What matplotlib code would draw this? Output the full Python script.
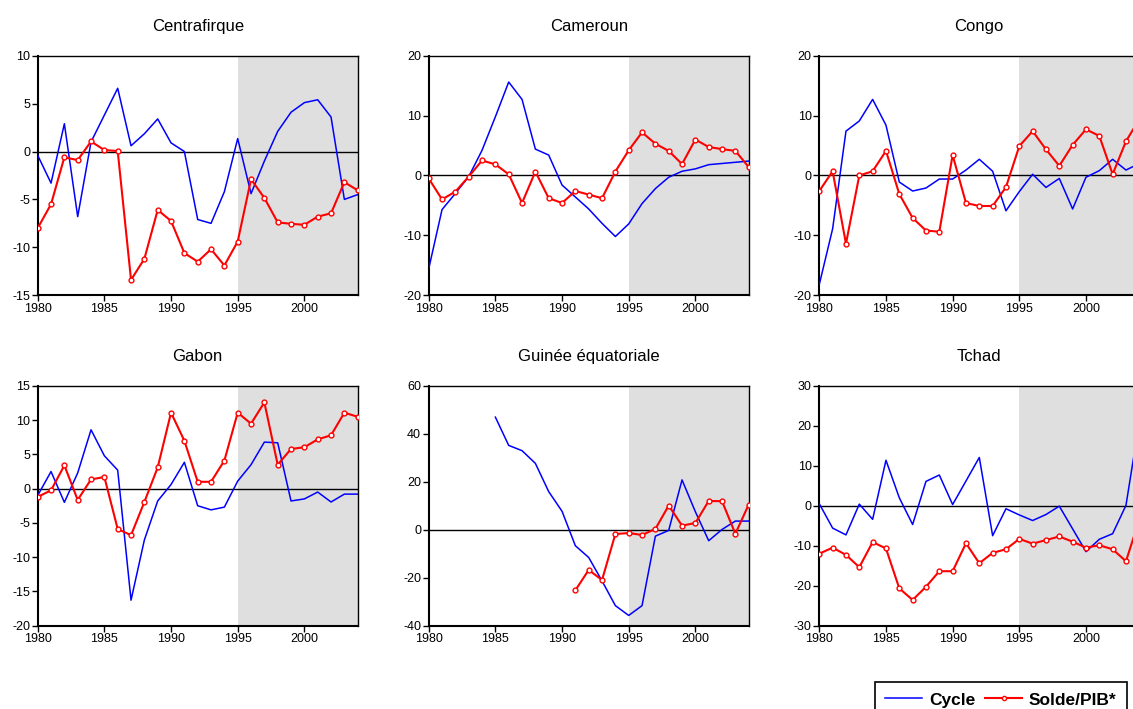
import numpy as np
from matplotlib import pyplot as plt
from matplotlib.lines import Line2D

plt.rcParams['font.family'] = ['Liberation Sans', 'DejaVu Sans']
plt.rcParams['axes.unicode_minus'] = False

years = np.arange(1980, 2005)
nan = np.nan

# Cycle (blue) and Solde/PIB* (red), one pair per country
centrafrique_cycle = [-0.4, -3.3, 2.9, -6.8, 1.0, 3.8, 6.6, 0.6, 1.85, 3.4, 0.9, 0.0,
                      -7.1, -7.5, -4.2, 1.35, -4.4, -1.0, 2.1, 4.1, 5.1, 5.4, 3.6, -5.0, -4.5]
centrafrique_solde = [-8.0, -5.5, -0.6, -0.9, 1.05, 0.15, 0.05, -13.4, -11.2, -6.1, -7.25, -10.6,
                      -11.5, -10.2, -11.9, -9.4, -2.9, -4.85, -7.4, -7.55, -7.65, -6.8, -6.45, -3.2, -4.05]

cameroun_cycle = [-15.6, -5.7, -3.0, -0.2, 4.2, 9.8, 15.6, 12.7, 4.4, 3.4, -1.6, -3.6,
                  -5.6, -8.0, -10.2, -8.1, -4.7, -2.2, -0.3, 0.7, 1.1, 1.8, 2.0, 2.2, 2.4]
cameroun_solde = [-0.5, -4.0, -2.7, -0.2, 2.5, 1.85, 0.2, -4.6, 0.65, -3.8, -4.6, -2.6,
                  -3.2, -3.8, 0.65, 4.2, 7.2, 5.3, 4.1, 1.9, 6.0, 4.75, 4.4, 4.1, 1.4]

congo_cycle = [-18.2, -8.9, 7.4, 9.1, 12.7, 8.4, -1.1, -2.6, -2.1, -0.6, -0.6, 0.9,
               2.7, 0.7, -5.9, -2.7, 0.2, -2.0, -0.5, -5.6, -0.3, 0.8, 2.7, 0.9, 2.0]
congo_solde = [-2.6, 0.7, -11.4, 0.0, 0.7, 4.1, -3.1, -7.1, -9.2, -9.4, 3.4, -4.6,
               -5.1, -5.1, -1.95, 4.9, 7.4, 4.35, 1.6, 5.1, 7.7, 6.6, 0.2, 5.7, 9.4]

gabon_cycle = [-1.0, 2.5, -2.0, 2.3, 8.6, 4.8, 2.7, -16.3, -7.5, -1.8, 0.6, 3.85,
               -2.5, -3.1, -2.7, 1.1, 3.5, 6.8, 6.7, -1.8, -1.5, -0.5, -1.95, -0.8, -0.8]
gabon_solde = [-1.2, -0.25, 3.4, -1.65, 1.35, 1.7, -5.9, -6.8, -1.95, 3.1, 11.1, 7.0,
               1.0, 1.0, 4.1, 11.1, 9.5, 12.6, 3.5, 5.8, 6.05, 7.2, 7.8, 11.1, 10.5]

guinee_cycle = [nan, nan, nan, nan, nan, 47.0, 35.2, 33.0, 27.7, 15.9, 7.7, -6.7,
                -11.6, -21.4, -31.7, -35.8, -31.7, -2.7, -0.3, 20.8, 7.5, -4.6, 0.1, 3.6, 3.6]
guinee_solde = [nan, nan, nan, nan, nan, nan, nan, nan, nan, nan, nan, -25.3,
                -16.8, -21.0, -1.8, -1.4, -2.2, 0.3, 10.1, 1.7, 2.8, 12.0, 11.9, -1.7, 10.5]

tchad_cycle = [0.5, -5.6, -7.3, 0.4, -3.4, 11.4, 2.0, -4.7, 6.1, 7.7, 0.3, 6.2,
               12.1, -7.5, -0.75, -2.3, -3.7, -2.2, -0.1, -5.8, -11.5, -8.4, -7.0, 0.1, 21.0]
tchad_solde = [-12.0, -10.5, -12.3, -15.4, -9.1, -10.7, -20.7, -23.6, -20.3, -16.4, -16.4, -9.4,
               -14.4, -11.8, -10.9, -8.3, -9.5, -8.6, -7.7, -9.0, -10.5, -9.9, -10.9, -13.9, -3.5]

titles = ['Centrafirque', 'Cameroun', 'Congo', 'Gabon', 'Guinée équatoriale', 'Tchad']
cycles = [centrafrique_cycle, cameroun_cycle, congo_cycle, gabon_cycle, guinee_cycle, tchad_cycle]
soldes = [centrafrique_solde, cameroun_solde, congo_solde, gabon_solde, guinee_solde, tchad_solde]
ylims = [(-15, 10), (-20, 20), (-20, 20), (-20, 15), (-40, 60), (-30, 30)]
ysteps = [5, 10, 10, 5, 20, 10]

fig = plt.figure(figsize=(11.33, 7.09), dpi=100)

W, H = 1133., 709.
lefts = [37.7, 428.7, 819.3]
tops = [55.7, 386.0]
ax_w, ax_h = 320.0, 239.5

for i in range(6):
    r, c = divmod(i, 3)
    ax = fig.add_axes([lefts[c] / W, 1 - (tops[r] + ax_h) / H, ax_w / W, ax_h / H])
    ax.axvspan(1995, 2004, color='#dfdfdf', lw=0, zorder=0)
    ax.axhline(0, color='black', lw=1.0, zorder=1)
    ax.plot(years, cycles[i], color='#0000ff', lw=1.1, zorder=3)
    ax.plot(years, soldes[i], color='#ff0000', lw=1.5, marker='o', ms=3.5,
            mfc='white', mec='#ff0000', mew=1.0, zorder=4)
    ax.set_xlim(1980, 2004)
    ax.set_ylim(*ylims[i])
    ax.set_xticks(np.arange(1980, 2004, 5))
    ax.set_yticks(np.arange(ylims[i][0], ylims[i][1] + 1, ysteps[i]))
    ax.tick_params(direction='out', length=4, width=1, labelsize=9, pad=1.5, colors='black')
    for s in ['left', 'bottom']:
        ax.spines[s].set_linewidth(1.5)
    for s in ['top', 'right']:
        ax.spines[s].set_linewidth(1.0)
    ax.set_title(titles[i], fontsize=12, pad=18)

handles = [Line2D([], [], color='#0000ff', lw=1.1),
           Line2D([], [], color='#ff0000', lw=1.5, marker='o', ms=3,
                  mfc='white', mec='#ff0000')]
leg = fig.legend(handles, ['Cycle', 'Solde/PIB*'], loc='upper left',
                 bbox_to_anchor=(875 / W, 1 - 682 / H), ncol=2, frameon=True,
                 fancybox=False, edgecolor='black', framealpha=1,
                 prop={'weight': 'bold', 'size': 12.5}, handlelength=2.1,
                 columnspacing=0.6, handletextpad=0.4, borderpad=0.6, borderaxespad=0)
leg.get_frame().set_linewidth(1.2)

fig.savefig('out.png', dpi=100)
